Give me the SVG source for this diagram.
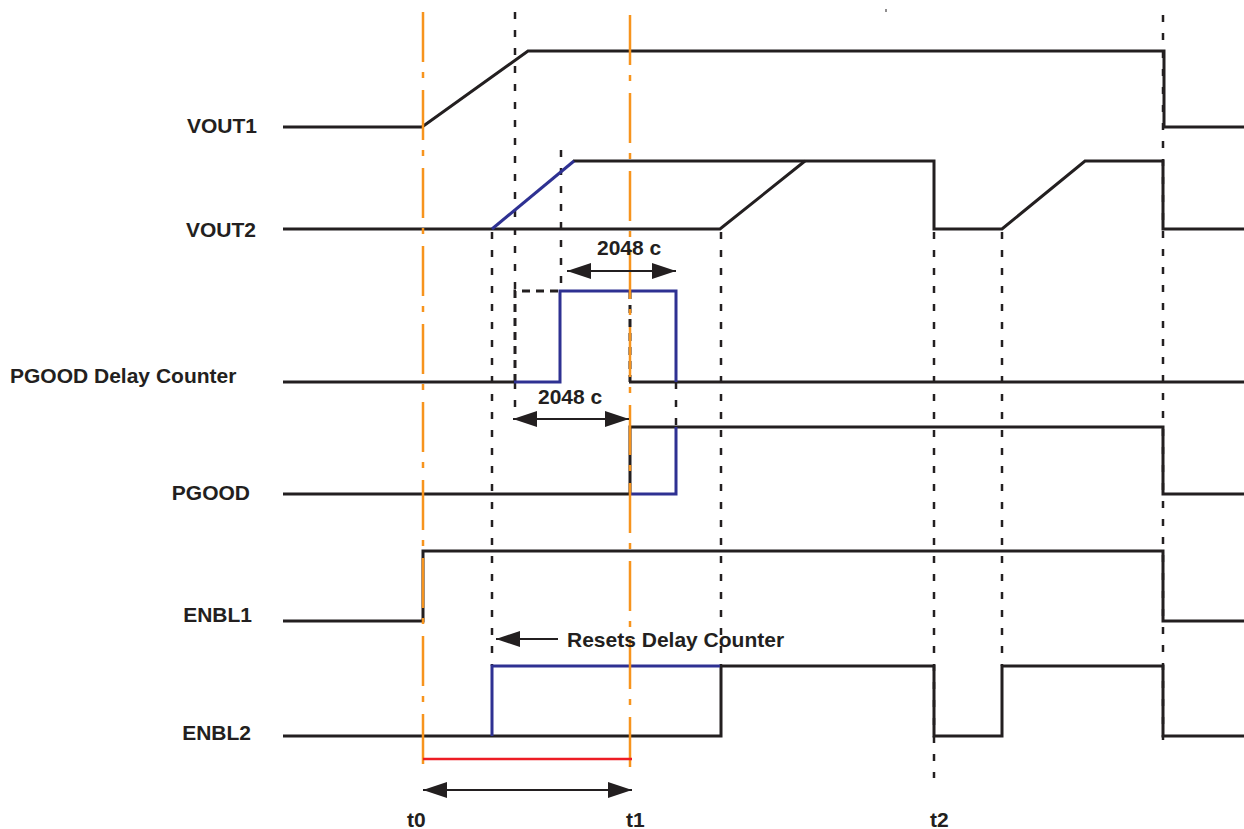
<svg xmlns="http://www.w3.org/2000/svg" width="1244" height="829" viewBox="0 0 1244 829">
<style>
.sig{fill:none;stroke:#231f20;stroke-width:3;stroke-linejoin:miter}
.blu{fill:none;stroke:#2e3192;stroke-width:3}
.dsh{fill:none;stroke:#231f20;stroke-width:2.5;stroke-dasharray:7 11}
.bdsh{fill:none;stroke:#231f20;stroke-width:3;stroke-dasharray:8 6}
.org{fill:none;stroke:#f7941d;stroke-width:2.5;stroke-dasharray:50 10 6 12}
.arr{fill:none;stroke:#231f20;stroke-width:2}
.lbl{font-family:"Liberation Sans",Arial,sans-serif;font-weight:bold;font-size:21px;fill:#231f20}
</style>
<defs>
<marker id="ah" viewBox="0 0 24 16" refX="24" refY="8" markerWidth="24" markerHeight="16" markerUnits="userSpaceOnUse" orient="auto-start-reverse">
<path d="M0,0 L24,8 L0,16 Z" fill="#231f20"/>
</marker>
</defs>
<rect width="1244" height="829" fill="#fff"/>

<g id="connectors">
<line class="dsh" x1="515" y1="12" x2="515" y2="291"/>
<line class="dsh" x1="515" y1="382" x2="515" y2="420"/>
<line class="dsh" x1="492" y1="232" x2="492" y2="666"/>
<line class="dsh" x1="561" y1="150" x2="561" y2="291"/>
<line class="dsh" x1="676" y1="382" x2="676" y2="427"/>
<line class="dsh" x1="721" y1="232" x2="721" y2="666"/>
<line class="dsh" x1="934" y1="232" x2="934" y2="778"/>
<line class="dsh" x1="1002" y1="232" x2="1002" y2="666"/>
<line class="dsh" x1="1163" y1="15" x2="1163" y2="740"/>
<line class="bdsh" x1="630" y1="291" x2="630" y2="382"/>
<path class="bdsh" d="M515,382 V291 H561"/>
<line x1="886" y1="9" x2="886" y2="12" stroke="#231f20" stroke-width="1"/>
</g>

<g id="VOUT1">
<text class="lbl" x="257" y="133" text-anchor="end">VOUT1</text>
<path class="sig" d="M283,127 H422 L528,51 H1164 V127 H1244"/>
</g>

<g id="VOUT2">
<text class="lbl" x="256" y="237" text-anchor="end">VOUT2</text>
<path class="sig" d="M283,229 H720 L805,161"/>
<path class="sig" d="M573,161 H934 V229 H1002 L1085,161 H1163 V229 H1244"/>
<path class="blu" d="M492,229 L574,161"/>
</g>

<g id="PGOODDelayCounter">
<text class="lbl" x="10" y="383">PGOOD Delay Counter</text>
<path class="sig" d="M283,382 H514"/>
<path class="sig" d="M629,382 H1244"/>
<path class="blu" d="M514,382 H560 V291 H676 V382"/>
</g>

<g id="PGOOD">
<text class="lbl" x="250" y="500" text-anchor="end">PGOOD</text>
<path class="sig" d="M283,494 H630"/>
<path class="sig" d="M630,494 V427 H1163 V494 H1244"/>
<path class="blu" d="M631,494 H676 V427"/>
</g>

<g id="ENBL1">
<text class="lbl" x="252" y="622" text-anchor="end">ENBL1</text>
<path class="sig" d="M283,621 H423 V551 H1163 V621 H1244"/>
</g>

<g id="ENBL2">
<text class="lbl" x="251" y="740" text-anchor="end">ENBL2</text>
<path class="sig" d="M283,736 H721 V666 H934 V736 H1002 V666 H1163 V736 H1244"/>
<path class="blu" d="M492,736 V666 H720"/>
</g>

<g id="markers">
<line class="org" x1="423" y1="12" x2="423" y2="772"/>
<line class="org" x1="630" y1="15" x2="630" y2="772"/>
<line x1="423" y1="759" x2="632" y2="759" stroke="#ed1c24" stroke-width="2.5"/>
</g>

<g id="annotations">
<line class="arr" x1="567" y1="271" x2="676" y2="271" marker-start="url(#ah)" marker-end="url(#ah)"/>
<text class="lbl" x="597" y="255">2048 c</text>
<line class="arr" x1="513" y1="419" x2="629" y2="419" marker-start="url(#ah)" marker-end="url(#ah)"/>
<text class="lbl" x="538" y="404">2048 c</text>
<line class="arr" x1="496" y1="639" x2="558" y2="639" marker-start="url(#ah)"/>
<text class="lbl" x="567" y="647">Resets Delay Counter</text>
<line class="arr" x1="423" y1="790" x2="632" y2="790" marker-start="url(#ah)" marker-end="url(#ah)"/>
<text class="lbl" x="407" y="827">t0</text>
<text class="lbl" x="626" y="827">t1</text>
<text class="lbl" x="930" y="827">t2</text>
</g>
</svg>
